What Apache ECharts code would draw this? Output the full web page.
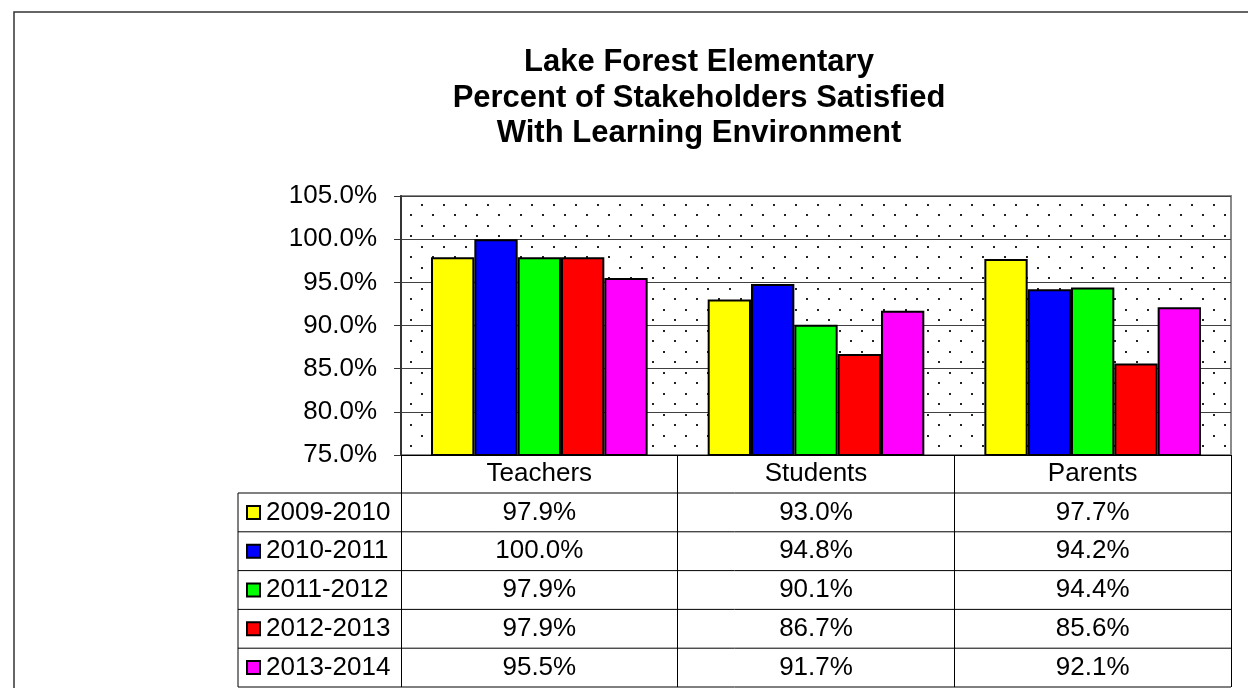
<!DOCTYPE html>
<html>
<head>
<meta charset="utf-8">
<script src="https://cdn.jsdelivr.net/npm/echarts@6/dist/echarts.min.js"></script>
<style>
html,body{margin:0;padding:0;background:#fff;}
#chart{width:1248px;height:688px;}
</style>
</head>
<body>
<div id="chart"></div>
<script>
const titleLines = ['Lake Forest Elementary', 'Percent of Stakeholders Satisfied', 'With Learning Environment'];
const categories = ['Teachers', 'Students', 'Parents'];
const seriesNames = ['2009-2010', '2010-2011', '2011-2012', '2012-2013', '2013-2014'];
const seriesColors = ['#FFFF00', '#0000FF', '#00FF00', '#FF0000', '#FF00FF'];
const values2009 = [97.9, 93.0, 97.7];
const values2010 = [100.0, 94.8, 94.2];
const values2011 = [97.9, 90.1, 94.4];
const values2012 = [97.9, 86.7, 85.6];
const values2013 = [95.5, 91.7, 92.1];
const seriesValues = [values2009, values2010, values2011, values2012, values2013];
const yMin = 75, yMax = 105, yStep = 5;

const FONT = '"Liberation Sans", Arial, sans-serif';
const GRID = {left: 401, right: 1231, top: 196, bottom: 455};
const TABLE = {labelLeft: 238, rowTop: 493, rowH: 38.8, keyX: 247, keySize: 13, textX: 266};

// dotted background pattern
const pc = document.createElement('canvas');
pc.width = 22; pc.height = 21;
const pctx = pc.getContext('2d');
pctx.fillStyle = '#fff';
pctx.fillRect(0, 0, 22, 21);
pctx.fillStyle = '#222';
pctx.fillRect(3, 15, 2, 2);
pctx.fillRect(14, 4, 2, 2);

const chart = echarts.init(document.getElementById('chart'), null, {renderer: 'canvas'});

const option = {
  backgroundColor: '#fff',
  animation: false,
  grid: {
    left: GRID.left, right: 1248 - GRID.right, top: GRID.top, bottom: 688 - GRID.bottom,
    show: true,
    backgroundColor: {image: pc, repeat: 'repeat'},
    borderColor: '#8a8a8a',
    borderWidth: 2
  },
  xAxis: {
    type: 'category',
    data: categories,
    axisLine: {show: true, lineStyle: {color: '#000', width: 1}},
    axisTick: {show: true, length: 232, alignWithLabel: false, lineStyle: {color: '#000', width: 1}},
    axisLabel: {color: '#000', fontSize: 26, fontFamily: FONT, margin: 6},
    splitLine: {show: false}
  },
  yAxis: {
    type: 'value',
    min: yMin, max: yMax, interval: yStep,
    axisLine: {show: true, lineStyle: {color: '#333', width: 2}},
    axisTick: {show: true, length: 7, lineStyle: {color: '#333', width: 1}},
    axisLabel: {color: '#000', fontSize: 26, fontFamily: FONT, margin: 24,
      formatter: v => v.toFixed(1) + '%'},
    splitLine: {show: true, lineStyle: {color: '#404040', width: 1}}
  },
  series: seriesNames.map((name, i) => ({
    name: name,
    type: 'bar',
    data: seriesValues[i],
    barGap: '0%',
    barCategoryGap: '21.7%',
    itemStyle: {color: seriesColors[i], borderColor: '#000', borderWidth: 2}
  }))
};
chart.setOption(option);

// graphics: outer border, title, data table
const g = [];
g.push({type: 'rect', shape: {x: 14, y: 12, width: 1300, height: 720},
  style: {fill: null, stroke: '#333', lineWidth: 1.5}, silent: true, z: 100});
g.push({type: 'text', x: 699, y: 45, z: 100,
  style: {text: titleLines.join('\n'), font: 'bold 31px ' + FONT, fill: '#000',
    textAlign: 'center', textVerticalAlign: 'top', lineHeight: 35.5}});

const colX = categories.map(c => chart.convertToPixel({xAxisIndex: 0}, c));
for (let k = 0; k <= seriesNames.length; k++) {
  const y = TABLE.rowTop + TABLE.rowH * k;
  g.push({type: 'line', shape: {x1: TABLE.labelLeft, y1: y, x2: GRID.right, y2: y},
    style: {stroke: '#000', lineWidth: 1}, z: 100});
}
g.push({type: 'line', shape: {x1: TABLE.labelLeft, y1: TABLE.rowTop, x2: TABLE.labelLeft,
  y2: TABLE.rowTop + TABLE.rowH * seriesNames.length}, style: {stroke: '#000', lineWidth: 1}, z: 100});

seriesNames.forEach((name, i) => {
  const cy = TABLE.rowTop + TABLE.rowH * (i + 0.5);
  g.push({type: 'rect', shape: {x: TABLE.keyX, y: cy - TABLE.keySize / 2, width: TABLE.keySize, height: TABLE.keySize},
    style: {fill: seriesColors[i], stroke: '#000', lineWidth: 2}, z: 100});
  g.push({type: 'text', x: TABLE.textX, y: cy, z: 100,
    style: {text: name, font: '26px ' + FONT, fill: '#000', textAlign: 'left', textVerticalAlign: 'middle'}});
  seriesValues[i].forEach((v, j) => {
    g.push({type: 'text', x: colX[j], y: cy, z: 100,
      style: {text: v.toFixed(1) + '%', font: '26px ' + FONT, fill: '#000', textAlign: 'center', textVerticalAlign: 'middle'}});
  });
});
chart.setOption({graphic: g});
</script>
</body>
</html>
